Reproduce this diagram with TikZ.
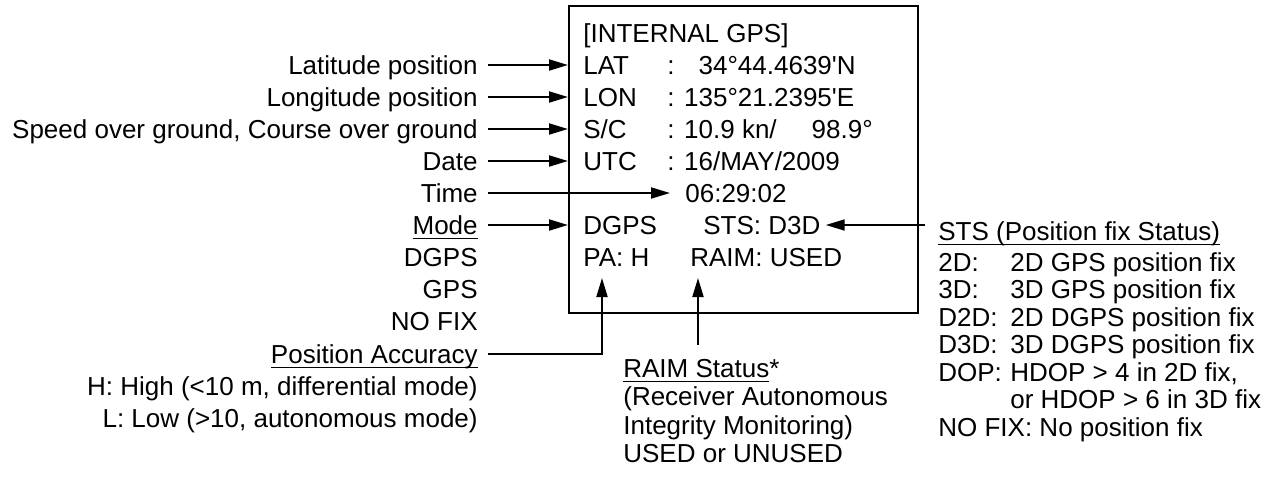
\documentclass[tikz,border=0pt]{standalone}
\usepackage{fontspec}
\setmainfont{Liberation Sans}
\usetikzlibrary{arrows.meta}
\newcommand{\gpsfont}{\fontsize{14.8pt}{18pt}\selectfont}
\newcommand{\ulbox}[1]{\sbox0{#1}\rlap{\rule[-2.8pt]{\wd0}{0.8pt}}\usebox0}
\tikzset{
  txt/.style={inner sep=0pt, text height=10.6pt, text depth=0pt, font=\gpsfont},
  lbl/.style={txt, anchor=east},
  val/.style={txt, anchor=west},
  arr/.style={-{Triangle[length=0.38cm,width=0.22cm]}, line width=1.1pt},
  frame/.style={draw, line width=1.1pt, minimum width=6.98cm,
    minimum height=6.14cm, anchor=north west, inner sep=0pt}
}
\begin{document}
\begin{tikzpicture}[x=0.02cm, y=-0.02cm]
  \useasboundingbox (0,0) rectangle (1272,477);
  \node[frame] (box) at (568,5) {};
  \node[val] (title) at (583,33) {[INTERNAL GPS]};
  \node[val] (lat) at (583,65) {\makebox[1.68cm][l]{LAT}: \phantom{1}34°44.4639\textquotesingle N};
  \node[val] (lon) at (583,97) {\makebox[1.68cm][l]{LON}: 135°21.2395\textquotesingle E};
  \node[val] (sc) at (583,129) {\makebox[1.68cm][l]{S/C}: 10.9 kn/\hspace{0.7cm}98.9°};
  \node[val] (utc) at (583,161) {\makebox[1.68cm][l]{UTC}: 16/MAY/2009};
  \node[val] (time) at (685,193) {06:29:02};
  \node[val] (mode) at (583,225) {DGPS};
  \node[val] (sts) at (703,225) {STS: D3D};
  \node[val] (pa) at (583,257) {PA: H};
  \node[val] (raim) at (690,257) {RAIM: USED};

  \node[lbl] (llat) at (478,65) {Latitude position};
  \node[lbl] (llon) at (478,97) {Longitude position};
  \node[lbl] (lsc) at (478,129) {Speed over ground, Course over ground};
  \node[lbl] (ldate) at (478,161) {Date};
  \node[lbl] (ltime) at (478,193) {Time};
  \node[lbl] (lmode) at (478,225) {\ulbox{Mode}};
  \foreach \m [count=\i] in {DGPS,GPS,NO FIX}
    \node[lbl] (lm\i) at (478,225+32*\i) {\m};
  \node[lbl] (lpa) at (478,354) {\ulbox{Position Accuracy}};
  \node[lbl] (lhigh) at (478,386) {H: High (<10 m, differential mode)};
  \node[lbl] (llow) at (478,418) {L: Low (>10, autonomous mode)};

  \node[val] (lraim) at (623,368) {\ulbox{RAIM Status}*};
  \node[val] (lraim1) at (623,396) {(Receiver Autonomous};
  \node[val] (lraim2) at (623,425) {Integrity Monitoring)};
  \node[val] (lraim3) at (623,453) {USED or UNUSED};

  \node[val] (lsts) at (938,231) {\ulbox{STS (Position fix Status)}};
  \foreach \k/\t [count=\i from 0] in {2D:/2D GPS position fix, 3D:/3D GPS position fix,
      D2D:/2D DGPS position fix, D3D:/3D DGPS position fix, DOP:/{HDOP > 4 in 2D fix,}}
    \node[val] (sts\i) at (938,262+27.5*\i) {\makebox[1.44cm][l]{\k}\t};
  \node[val] (sts5) at (1010,399.5) {or HDOP > 6 in 3D fix};
  \node[val] (sts6) at (938,427) {NO FIX: No position fix};

  \foreach \a in {lat,lon,sc,date,mode}
    \draw[arr, shorten <=0.2cm] (l\a.east) -- (l\a.east -| box.west);
  \draw[arr, shorten <=0.2cm, shorten >=0.3cm] (ltime.east) -- (time.west);
  \draw[arr, shorten <=0.26cm, shorten >=0.1cm] (lsts.west |- sts.east) -- (sts.east);
  \coordinate (patip) at (602,278);
  \draw[arr, shorten <=0.2cm] (lpa.east) -| (patip);
  \coordinate (raimfoot) at (698,345);
  \coordinate (raimtip) at (698,278);
  \draw[arr] (raimfoot) -- (raimtip);
\end{tikzpicture}
\end{document}
